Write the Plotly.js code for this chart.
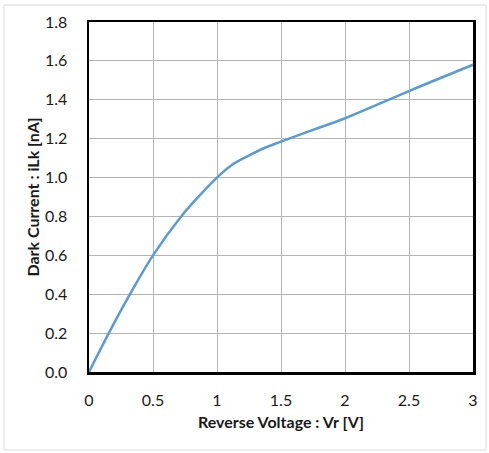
<!DOCTYPE html>
<html>
<head>
<meta charset="utf-8">
<script src="https://cdn.plot.ly/plotly-3.0.1.min.js"></script>
<style>
html,body{margin:0;padding:0;background:#fff;}
#chart{width:489px;height:453px;}
</style>
</head>
<body>
<div id="chart"></div>
<script>
// Reverse voltage (V)
var voltage = [0, 0.155, 0.32, 0.5, 0.72, 0.86, 1.0, 1.11, 1.24, 1.37, 1.5, 1.75, 2.0, 2.5, 3.0];
// Dark current (nA)
var darkCurrent = [0, 0.2, 0.4, 0.6, 0.8, 0.905, 1.0, 1.062, 1.11, 1.152, 1.185, 1.245, 1.305, 1.445, 1.58];

var xTitle = 'Reverse Voltage : Vr [V]';
var yTitle = 'Dark Current : iLk [nA]';

var fontFam = 'Lato, "Open Sans", sans-serif';

var trace = {
  x: voltage,
  y: darkCurrent,
  type: 'scatter',
  mode: 'lines',
  line: {color: '#5B9BD5', width: 2.5, shape: 'spline', smoothing: 1},
  hoverinfo: 'none'
};

var layout = {
  width: 489,
  height: 453,
  margin: {l: 89, r: 16, t: 22, b: 81},
  paper_bgcolor: '#ffffff',
  plot_bgcolor: '#ffffff',
  showlegend: false,
  font: {family: fontFam, color: '#1a1a1a', size: 16},
  xaxis: {
    range: [0, 3],
    dtick: 0.5,
    tick0: 0,
    showgrid: true,
    gridcolor: '#b4b4b4',
    gridwidth: 1,
    zeroline: false,
    showline: true,
    linecolor: '#000000',
    linewidth: 2.5,
    mirror: true,
    ticks: '',
    ticklabelstandoff: 12,
    tickfont: {family: fontFam, size: 16, color: '#1a1a1a'},
    title: {text: xTitle, font: {family: fontFam, size: 16, color: '#1a1a1a', weight: 'bold'}, standoff: 9}
  },
  yaxis: {
    range: [0, 1.8],
    dtick: 0.2,
    tick0: 0,
    tickformat: '.1f',
    showgrid: true,
    gridcolor: '#b4b4b4',
    gridwidth: 1,
    zeroline: false,
    showline: true,
    linecolor: '#000000',
    linewidth: 2.5,
    mirror: true,
    ticks: '',
    ticklabelstandoff: 16,
    tickfont: {family: fontFam, size: 16, color: '#1a1a1a'},
    title: {text: yTitle, font: {family: fontFam, size: 16, color: '#1a1a1a', weight: 'bold'}, standoff: 2}
  },
  shapes: [{
    type: 'rect', xref: 'paper', yref: 'paper',
    x0: -0.2214, x1: 1.034, y0: -0.2229, y1: 1.0486,
    line: {color: '#d9d9d9', width: 1},
    fillcolor: 'rgba(0,0,0,0)',
    layer: 'below'
  }]
};

Plotly.newPlot('chart', [trace], layout, {displayModeBar: false, staticPlot: true});
</script>
</body>
</html>
